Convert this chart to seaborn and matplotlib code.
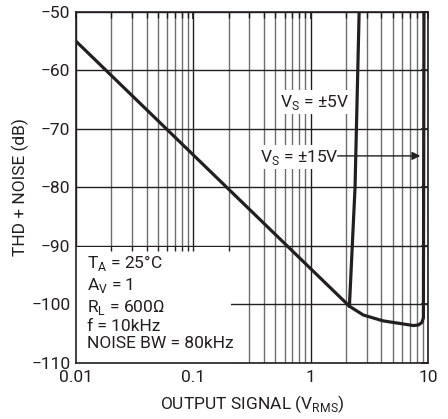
import numpy as np
import pandas as pd
import seaborn as sns
import matplotlib.pyplot as plt
from matplotlib.ticker import FixedLocator, NullFormatter

# curve (x in V_RMS, y in dB)
x_low = [0.01, 2.14]
y_low = [-55.0, -100.3]
x_5v = [2.14, 2.39, 2.59]
y_5v = [-100.3, -80.0, -50.0]
x_15v = [2.14, 2.81, 4.14, 7.5, 8.3, 8.85, 9.14, 9.25]
y_15v = [-100.3, -101.8, -102.8, -103.6, -103.5, -103.1, -102.3, -50.0]

x_ticks = [0.01, 0.1, 1, 10]
x_labels = ["0.01", "0.1", "1", "10"]
y_ticks = [-110, -100, -90, -80, -70, -60, -50]

conditions = ("T$_{\\mathregular{A}}$ = 25°C\nA$_{\\mathregular{V}}$ = 1\n"
              "R$_{\\mathregular{L}}$ = 600Ω\nf = 10kHz\nNOISE BW = 80kHz")

sns.set_theme(style="white")
plt.rcParams['font.family'] = ['Roboto', 'DejaVu Sans']
plt.rcParams['mathtext.fontset'] = 'custom'
plt.rcParams['mathtext.rm'] = 'Roboto'
plt.rcParams['axes.unicode_minus'] = True

ink = '#231f20'
fs = 12.5
fig = plt.figure(figsize=(4.48, 4.19), dpi=100)
ax = fig.add_axes([0.1696, 0.1337, 0.7857, 0.8377])

df = pd.concat([
    pd.DataFrame({'x': x_low, 'y': y_low, 'seg': 'low'}),
    pd.DataFrame({'x': x_5v, 'y': y_5v, 'seg': '5v'}),
    pd.DataFrame({'x': x_15v, 'y': y_15v, 'seg': '15v'}),
])
sns.lineplot(data=df, x='x', y='y', units='seg', estimator=None, sort=False,
             color=ink, lw=2.3, ax=ax, zorder=3)

ax.set_xscale('log')
ax.set_xlim(0.01, 10)
ax.set_ylim(-110, -50)
ax.set_xticks(x_ticks)
ax.set_xticklabels(x_labels)
minor = [m * d for d in [0.01, 0.1, 1] for m in range(2, 10)]
ax.xaxis.set_minor_locator(FixedLocator(minor))
ax.xaxis.set_minor_formatter(NullFormatter())
ax.set_yticks(y_ticks)

ax.set_axisbelow(True)
ax.grid(which='major', color=ink, lw=1.0)
ax.grid(which='minor', axis='x', color='#6d6d6d', lw=1.0)
for s in ax.spines.values():
    s.set_color(ink)
    s.set_linewidth(1.2)
ax.tick_params(which='both', direction='in', top=True, right=True,
               color=ink, labelsize=fs, labelcolor=ink)
ax.tick_params(which='major', length=5)
ax.tick_params(which='minor', length=4)
ax.tick_params(axis='x', pad=5)
ax.tick_params(axis='y', pad=4)

# white panel for the test conditions
ax.fill_between([0.01, 0.21], -110, -90.2, color='white', zorder=1, lw=0)
box_ticks = [m for m in minor if m < 0.21] + [0.1]
ax.vlines(box_ticks, -90.8, -90, color=ink, lw=1.0, zorder=1.5)
ax.text(0.0123, -99.6, conditions, fontsize=fs, color=ink, va='center',
        ha='left', linespacing=1.18, zorder=2)

ax.text(0.55, -65.4, "V$_{\\mathregular{S}}$ = ±5V", fontsize=fs, color=ink,
        va='center', ha='left', zorder=2,
        bbox=dict(facecolor='white', edgecolor='none', pad=1.5))
ax.text(0.37, -74.8, "V$_{\\mathregular{S}}$ = ±15V", fontsize=fs, color=ink,
        va='center', ha='left', zorder=2,
        bbox=dict(facecolor='white', edgecolor='none', pad=1.5))
ax.annotate("", xy=(8.6, -74.6), xytext=(1.7, -74.6), zorder=2,
            arrowprops=dict(arrowstyle='-|>', color=ink, lw=1.0,
                            mutation_scale=12, shrinkA=0, shrinkB=0))

ax.set_xlabel("OUTPUT SIGNAL (V$_{\\mathregular{RMS}}$)", fontsize=fs,
              color=ink, labelpad=6)
ax.set_ylabel("THD + NOISE (dB)", fontsize=fs, color=ink, labelpad=2)

fig.savefig("out.png", dpi=100)
